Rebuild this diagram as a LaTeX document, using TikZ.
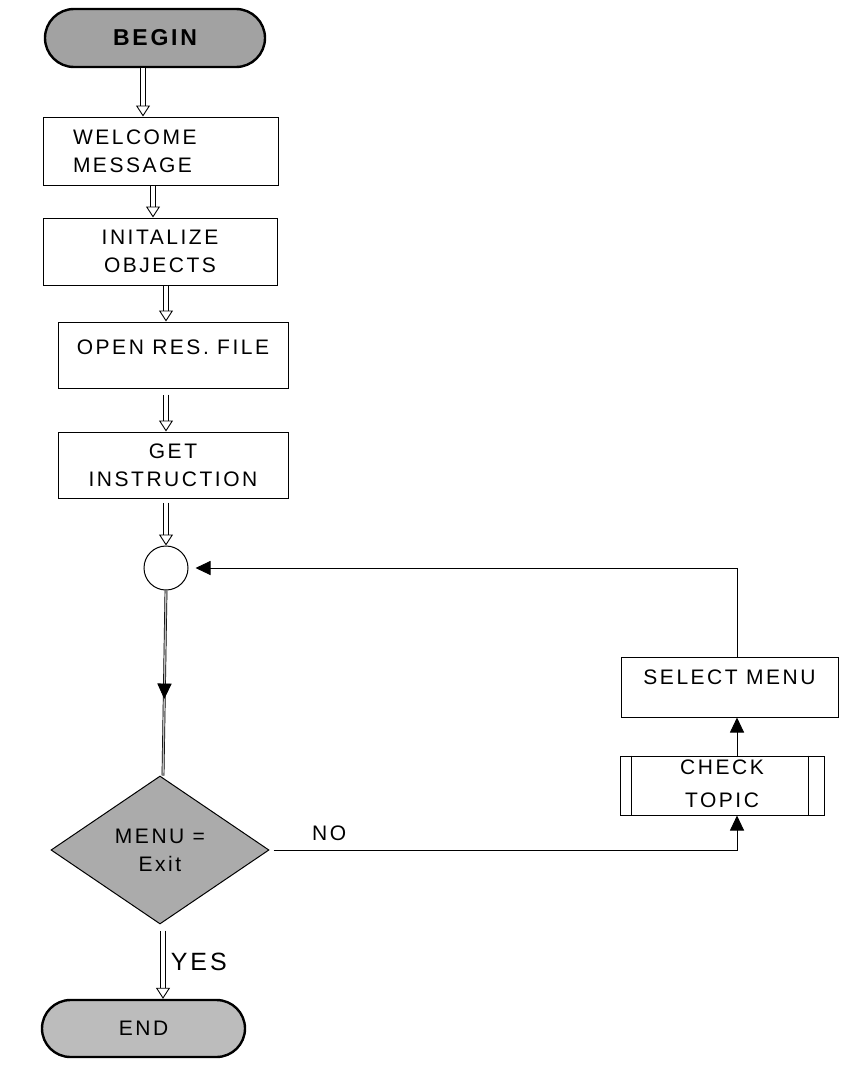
\documentclass[tikz,border=0pt]{standalone}
\usepackage{fontspec}
\newfontfamily\chartfont[LetterSpace=12]{Liberation Sans}
\usepackage{tikz}
\usetikzlibrary{arrows.meta,positioning,calc,shapes.geometric,shapes.misc,decorations.markings}
\definecolor{termgray}{HTML}{A2A2A2}
\definecolor{endgray}{HTML}{BCBCBC}
\definecolor{decgray}{HTML}{ABABAB}

\begin{document}
\begin{tikzpicture}[x=1pt,y=-1pt,font=\chartfont\fontsize{21}{28}\selectfont,>=Stealth,
  term/.style={draw,line width=2.4pt,rounded rectangle,minimum height=58pt,inner sep=0pt},
  box/.style={draw,line width=1pt,minimum width=230pt,minimum height=66pt,inner sep=0pt,align=center},
  hollow/.style={double=white,double distance=3.6pt,line width=0.9pt,-{Triangle[open,length=11pt,width=14pt]}},
  flow/.style={line width=0.9pt,-{Triangle[length=15pt,width=14pt]}},
  midtip/.style={decoration={markings,mark=at position #1 with {\arrow{Triangle[length=19pt,width=17pt]}}},postaction=decorate}]
\useasboundingbox (0,0) rectangle (846,1068);
\node[term,fill=termgray,minimum width=220pt,font=\chartfont\bfseries\fontsize{23}{28}\selectfont] (begin) at (155,38) {BEGIN};
\node[box,minimum width=235pt,minimum height=68pt,text width=175pt,align=left] (welcome) at (160.5,151) {WELCOME\\MESSAGE};
\node[box,minimum width=234pt,minimum height=67pt] (init) at (160,251.5) {INITALIZE\\OBJECTS};
\node[box,text depth=16pt] (open) at (173,355) {OPEN RES. FILE};
\node[box] (get) at (173,465) {GET\\INSTRUCTION};
\node[draw,line width=1pt,circle,minimum size=44pt,inner sep=0pt] (merge) at (166,568) {};
\node[draw,line width=1pt,diamond,fill=decgray,minimum width=218pt,minimum height=148pt,inner sep=0pt,align=center] (menu) at (160,850) {MENU =\\Exit};
\node[term,fill=endgray,minimum width=203pt,minimum height=57pt] (end) at (143.5,1028.5) {END};
\node[box,minimum width=204pt,minimum height=59pt,font=\chartfont\fontsize{21}{33}\selectfont,text depth=4pt] (chk) at (722,785.5) {CHECK\\TOPIC};
\node[box,minimum width=217pt,minimum height=60pt,text depth=20pt] (select) at (729.5,687) {SELECT MENU};
\draw[line width=1pt] ([xshift=12pt]chk.north west) -- ([xshift=12pt]chk.south west);
\draw[line width=1pt] ([xshift=-16pt]chk.north east) -- ([xshift=-16pt]chk.south east);
\draw[hollow] ([xshift=-12pt]begin.south) -- ([xshift=-12pt]begin.south |- welcome.north);
\draw[hollow] ([xshift=-7.5pt]welcome.south) -- ([xshift=-7.5pt]welcome.south |- init.north);
\draw[hollow] ([xshift=6pt]init.south) -- ([xshift=-7pt]open.north);
\draw[hollow,shorten <=6pt] ([xshift=-7pt]open.south) -- ([xshift=-7pt]get.north);
\draw[hollow,shorten <=4pt] ([xshift=-7pt]get.south) -- (merge.north);
\draw[line width=0.7pt,double=gray!50,double distance=1.4pt,midtip=0.6] (merge.south) -- ([xshift=3pt]menu.north);
\draw[hollow,shorten <=6pt] ([xshift=3pt]menu.south) -- node[right=4pt,font=\chartfont\fontsize{25}{28}\selectfont]{YES} ([xshift=3pt]menu.south |- end.north);
\draw[flow] ([xshift=4pt]menu.east) -- node[above=6pt,pos=0.12]{NO} ([xshift=15pt]chk.south |- menu.east) -- ([xshift=15pt]chk.south);
\draw[flow] ([xshift=15pt]chk.north) -- ([xshift=15pt]chk.north |- select.south);
\draw[flow,shorten >=7pt] ([xshift=7.5pt]select.north) |- (merge.east);
\end{tikzpicture}
\end{document}
